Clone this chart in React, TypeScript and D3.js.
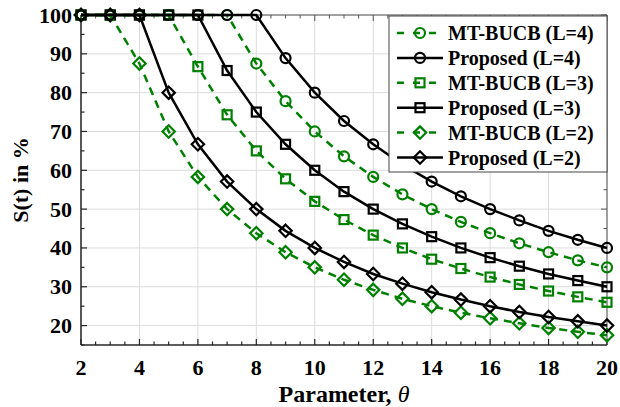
import React from "react";
import * as d3 from "d3";

const theta = [2, 3, 4, 5, 6, 7, 8, 9, 10, 11, 12, 13, 14, 15, 16, 17, 18, 19, 20];
const mtL4 = [100, 100, 100, 100, 100, 100, 87.5, 77.8, 70, 63.6, 58.3, 53.8, 50, 46.7, 43.8, 41.2, 38.9, 36.8, 35];
const propL4 = [100, 100, 100, 100, 100, 100, 100, 88.9, 80, 72.7, 66.7, 61.5, 57.1, 53.3, 50, 47.1, 44.4, 42.1, 40];
const mtL3 = [100, 100, 100, 100, 86.7, 74.3, 65, 57.8, 52, 47.3, 43.3, 40, 37.1, 34.7, 32.5, 30.6, 28.9, 27.4, 26];
const propL3 = [100, 100, 100, 100, 100, 85.7, 75, 66.7, 60, 54.5, 50, 46.2, 42.9, 40, 37.5, 35.3, 33.3, 31.6, 30];
const mtL2 = [100, 100, 87.5, 70, 58.3, 50, 43.8, 38.9, 35, 31.8, 29.2, 26.9, 25, 23.3, 21.9, 20.6, 19.4, 18.4, 17.5];
const propL2 = [100, 100, 100, 80, 66.7, 57.1, 50, 44.4, 40, 36.4, 33.3, 30.8, 28.6, 26.7, 25, 23.5, 22.2, 21.1, 20];

const seriesNames = ["MT-BUCB (L=4)", "Proposed (L=4)", "MT-BUCB (L=3)", "Proposed (L=3)", "MT-BUCB (L=2)", "Proposed (L=2)"];
const seriesValues = [mtL4, propL4, mtL3, propL3, mtL2, propL2];
const seriesMarkers = ["circle", "circle", "square", "square", "diamond", "diamond"];
const seriesKind = ["mt", "prop", "mt", "prop", "mt", "prop"];

const xTicks = [2, 4, 6, 8, 10, 12, 14, 16, 18, 20];
const yTicks = [20, 30, 40, 50, 60, 70, 80, 90, 100];

const W = 620, H = 407;
const L = 81, R = 607, T = 15, B = 345;
const FONT = "Tinos, 'Nimbus Roman', 'Nimbus Roman No9 L', FreeSerif, 'Noto Serif', Times, 'Times New Roman', 'Liberation Serif', 'DejaVu Serif', serif";
const GREEN = "#008000";

function Marker({ type, x, y, color }: { type: string; x: number; y: number; color: string }) {
  const sw = 2.2;
  if (type === "circle") return <circle cx={x} cy={y} r={5} fill="none" stroke={color} strokeWidth={sw} />;
  if (type === "square") return <rect x={x - 4.5} y={y - 4.5} width={9} height={9} fill="none" stroke={color} strokeWidth={sw} />;
  const s = 6.2;
  return <path d={`M${x},${y - s}L${x + s},${y}L${x},${y + s}L${x - s},${y}Z`} fill="none" stroke={color} strokeWidth={sw} />;
}

const txt = (size: number, extra: React.CSSProperties = {}): React.CSSProperties => ({
  fontFamily: FONT,
  fontWeight: 700,
  fontSize: size,
  ...extra,
});

export default function App() {
  const x = d3.scaleLinear().domain([2, 20]).range([L, R]);
  const y = d3.scaleLinear().domain([15, 100]).range([B, T]);
  const line = d3.line<number>().x((_, i) => x(theta[i])).y((d) => y(d));
  const xMinor = d3.range(2, 20.01, 0.5);
  const yMinor = d3.range(15, 100.01, 5);
  const axisColor = "#262626";

  const legX = 389, legY = 16, legW = 218, legH = 156, rowH = 24.9;

  return (
    <svg width={W} height={H} style={{ position: "absolute", left: 0, top: 0, background: "#fff" }}>
      <rect width={W} height={H} fill="#fff" />
      {xTicks.map((t) => (
        <line key={"gx" + t} x1={x(t)} x2={x(t)} y1={T} y2={B} stroke="#dcdcdc" strokeWidth={1} />
      ))}
      {yTicks.map((t) => (
        <line key={"gy" + t} x1={L} x2={R} y1={y(t)} y2={y(t)} stroke="#dcdcdc" strokeWidth={1} />
      ))}
      <line x1={L} x2={R} y1={B} y2={B} stroke={axisColor} strokeWidth={1.5} />
      <line x1={L} x2={L} y1={T} y2={B} stroke={axisColor} strokeWidth={1.5} />
      <line x1={R} x2={R} y1={T} y2={B} stroke="#555" strokeWidth={1} />
      <line x1={L} x2={R} y1={T} y2={T} stroke="#555" strokeWidth={1} />
      {xMinor.map((t) => {
        const major = xTicks.includes(t);
        const len = major ? 6 : 3.5;
        return (
          <g key={"xt" + t}>
            <line x1={x(t)} x2={x(t)} y1={B} y2={B - len} stroke={axisColor} strokeWidth={1.2} />
            <line x1={x(t)} x2={x(t)} y1={T} y2={T + len} stroke="#555" strokeWidth={1} />
          </g>
        );
      })}
      {yMinor.map((t) => {
        const major = yTicks.includes(t);
        const len = major ? 6 : 3.5;
        return (
          <g key={"yt" + t}>
            <line x1={L} x2={L + len} y1={y(t)} y2={y(t)} stroke={axisColor} strokeWidth={1.2} />
            <line x1={R} x2={R - len} y1={y(t)} y2={y(t)} stroke="#555" strokeWidth={1} />
          </g>
        );
      })}
      {xTicks.map((t) => (
        <text key={"xl" + t} x={x(t)} y={375} textAnchor="middle" style={txt(22)} fill="#000">
          {t}
        </text>
      ))}
      {yTicks.map((t) => (
        <text key={"yl" + t} x={72} y={y(t) + 7.5} textAnchor="end" style={txt(22)} fill="#000">
          {t}
        </text>
      ))}
      <text x={(L + R) / 2} y={402} textAnchor="middle" style={txt(24)} fill="#000">
        Parameter, <tspan style={{ fontStyle: "italic", fontWeight: 400 }}>θ</tspan>
      </text>
      <text transform={`translate(28,${(T + B) / 2}) rotate(-90)`} textAnchor="middle" style={txt(22)} fill="#000">
        S(t) in %
      </text>
      {seriesValues.map((vals, si) => {
        const color = seriesKind[si] === "mt" ? GREEN : "#000";
        return (
          <g key={"s" + si}>
            <path d={line(vals) || ""} fill="none" stroke={color} strokeWidth={2.5} strokeDasharray={seriesKind[si] === "mt" ? "8,6" : undefined} />
            {vals.map((v, i) => (
              <Marker key={i} type={seriesMarkers[si]} x={x(theta[i])} y={y(v)} color={color} />
            ))}
          </g>
        );
      })}
      <rect x={legX} y={legY} width={legW} height={legH} fill="#fff" stroke="#444" strokeWidth={1} />
      {seriesNames.map((name, si) => {
        const cy = 33 + si * rowH;
        const color = seriesKind[si] === "mt" ? GREEN : "#000";
        return (
          <g key={"lg" + si}>
            <line x1={397} x2={443} y1={cy} y2={cy} stroke={color} strokeWidth={2.5} strokeDasharray={seriesKind[si] === "mt" ? "7,9" : undefined} />
            <Marker type={seriesMarkers[si]} x={420} y={cy} color={color} />
            <text x={448} y={cy + 7} style={txt(20)} fill="#000">
              {name}
            </text>
          </g>
        );
      })}
    </svg>
  );
}
